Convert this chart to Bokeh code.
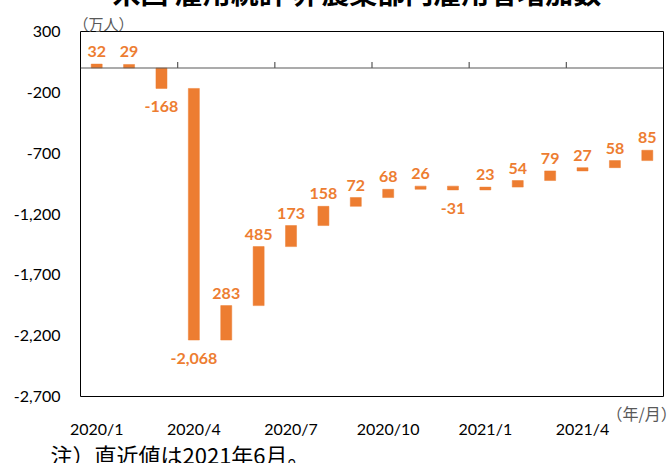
from bokeh.plotting import figure
from bokeh.models import ColumnDataSource, FixedTicker, NumeralTickFormatter, Span, Range1d
from bokeh.core.properties import value
from bokeh.embed import file_html
from bokeh.resources import INLINE

# ---- data (万人) ----
months = ["2020/1", "2020/2", "2020/3", "2020/4", "2020/5", "2020/6",
          "2020/7", "2020/8", "2020/9", "2020/10", "2020/11", "2020/12",
          "2021/1", "2021/2", "2021/3", "2021/4", "2021/5", "2021/6"]
changes = [32, 29, -168, -2068, 283, 485, 173, 158, 72, 68, 26, -31,
           23, 54, 79, 27, 58, 85]
x_tick_labels = ["2020/1", "2020/4", "2020/7", "2020/10", "2021/1", "2021/4"]
y_ticks = [300, -200, -700, -1200, -1700, -2200, -2700]

title_text = "米国 雇用統計 非農業部門雇用者増加数"
unit_y = "（万人）"
unit_x = "（年/月）"
note_text = "注）直近値は2021年6月。"

ORANGE = "#ED7D31"
GRAY = "#595959"
CJK = "Noto Sans CJK JP"
LAT = "Lato"
T = 40                 # canvas shifted up: the reference crop cuts the title
W, H = 669, 463 + T

# floating bars: Jan/Feb 2020 drawn from zero, afterwards cumulative from the Feb-2020 level
starts = []
level = 0
for i, v in enumerate(changes):
    if i < 2:
        starts.append(0)
    else:
        starts.append(level)
        level += v
ends = [s + v for s, v in zip(starts, changes)]
xs = [i + 0.5 for i in range(len(changes))]

src = ColumnDataSource(dict(x=xs, bottom=starts, top=ends))
pos = ColumnDataSource(dict(x=[x for x, v in zip(xs, changes) if v >= 0],
                            y=[e for e, v in zip(ends, changes) if v >= 0],
                            lab=[f"{v:,}" for v in changes if v >= 0]))
neg = ColumnDataSource(dict(x=[x for x, v in zip(xs, changes) if v < 0],
                            y=[e for e, v in zip(ends, changes) if v < 0],
                            lab=[f"{v:,}" for v in changes if v < 0]))

p = figure(width=W, height=H, x_range=(0, len(changes)),
           y_range=(y_ticks[-1], y_ticks[0]), title=None, tools="",
           output_backend="svg", toolbar_location=None,
           min_border_left=80, min_border_right=6, min_border_top=31 + T, min_border_bottom=67)
p.styles = {"position": "absolute", "left": "0px", "top": f"-{T}px"}
p.background_fill_color = "white"
p.border_fill_color = "white"
p.outline_line_color = "black"
p.outline_line_width = 1
p.xgrid.visible = False
p.ygrid.visible = False

# y axis
p.yaxis.ticker = FixedTicker(ticks=y_ticks)
p.yaxis.formatter = NumeralTickFormatter(format="0,0")
p.yaxis.axis_line_color = None
p.yaxis.major_tick_line_color = None
p.yaxis.minor_tick_line_color = None
p.yaxis.major_tick_out = 0
p.yaxis.major_tick_in = 0
p.yaxis.major_label_standoff = 20
p.yaxis.major_label_text_font = LAT
p.yaxis.major_label_text_font_size = "16px"
p.yaxis.major_label_text_color = "black"

# x axis (labels at bottom)
lab_ticks = [i + 0.5 for i in range(0, len(changes), 3)]
p.xaxis.ticker = FixedTicker(ticks=lab_ticks)
p.xaxis.major_label_overrides = {t: l for t, l in zip(lab_ticks, x_tick_labels)}
p.xaxis.axis_line_color = None
p.xaxis.major_tick_line_color = None
p.xaxis.minor_tick_line_color = None
p.xaxis.major_tick_out = 0
p.xaxis.major_tick_in = 0
p.xaxis.major_label_standoff = 22
p.xaxis.major_label_text_font = LAT
p.xaxis.major_label_text_font_size = "16px"
p.xaxis.major_label_text_color = "black"

# zero line with quarter ticks
p.add_layout(Span(location=0, dimension="width", line_color=GRAY, line_width=1.2))
bnds = list(range(3, len(changes), 3))
p.segment(x0=bnds, y0=[0] * len(bnds), x1=bnds, y1=[50] * len(bnds),
          line_color=GRAY, line_width=1.2)

# bars
p.vbar(x="x", bottom="bottom", top="top", width=0.34, source=src,
       fill_color=ORANGE, line_color=ORANGE, line_width=0.5)

# data labels
p.text(x="x", y="y", text="lab", source=pos, text_align="center", text_baseline="bottom",
       y_offset=-7, text_font=value(LAT), text_font_style="bold",
       text_font_size="16px", text_color=ORANGE)
p.text(x="x", y="y", text="lab", source=neg, text_align="center", text_baseline="top",
       y_offset=13, text_font=value(LAT), text_font_style="bold",
       text_font_size="16px", text_color=ORANGE)

# ---- transparent overlay (pixel coordinates of the canvas) for free texts ----
q = figure(width=W, height=H, x_range=Range1d(0, W), y_range=Range1d(H, 0),
           x_axis_location=None, y_axis_location=None, title=None, tools="",
           output_backend="svg", toolbar_location=None, min_border=0)
q.styles = {"position": "absolute", "left": "0px", "top": f"-{T}px"}
q.background_fill_color = None
q.border_fill_color = None
q.outline_line_color = None
q.grid.visible = False

q.text(x=[112], y=[31], text=[title_text], text_align="left", text_baseline="alphabetic",
       text_font=value(CJK), text_font_style="bold", text_font_size="28px", text_color="black")
q.text(x=[73], y=[63], text=[unit_y], text_align="left", text_baseline="alphabetic",
       text_font=value(CJK), text_font_size="15px", text_color=GRAY)
q.text(x=[606], y=[452], text=[unit_x], text_align="left", text_baseline="alphabetic",
       text_font=value(CJK), text_font_size="16px", text_color=GRAY)
q.text(x=[50], y=[493], text=[note_text], text_align="left", text_baseline="alphabetic",
       text_font=value(CJK), text_font_size="22px", text_color="black")

open("out.html", "w").write(file_html([p, q], INLINE))
